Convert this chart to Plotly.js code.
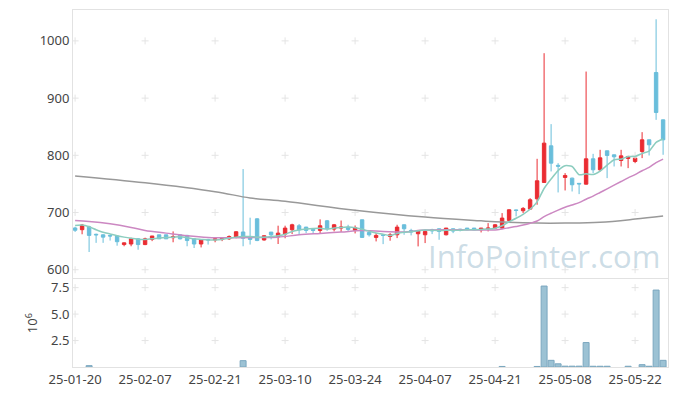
<!DOCTYPE html>
<html>
<head>
<meta charset="utf-8">
<script src="https://cdn.plot.ly/plotly-3.0.1.min.js"></script>
<style>html,body{margin:0;padding:0;background:#fff;}#chart{width:677px;height:396px;}</style>
</head>
<body>
<div id="chart"></div>
<script>
const dates = ["25-01-20","25-01-21","25-01-22","25-01-23","25-01-24","25-01-31","25-02-03","25-02-04","25-02-05","25-02-06",
"25-02-07","25-02-10","25-02-11","25-02-12","25-02-13","25-02-14","25-02-17","25-02-18","25-02-19","25-02-20",
"25-02-21","25-02-24","25-02-25","25-02-26","25-02-27","25-02-28","25-03-04","25-03-05","25-03-06","25-03-07",
"25-03-10","25-03-11","25-03-12","25-03-13","25-03-14","25-03-17","25-03-18","25-03-19","25-03-20","25-03-21",
"25-03-24","25-03-25","25-03-26","25-03-27","25-03-28","25-03-31","25-04-01","25-04-02","25-04-03","25-04-04",
"25-04-07","25-04-08","25-04-09","25-04-10","25-04-11","25-04-14","25-04-15","25-04-16","25-04-17","25-04-18",
"25-04-21","25-04-22","25-04-23","25-04-24","25-04-25","25-04-28","25-04-29","25-04-30","25-05-02","25-05-07",
"25-05-08","25-05-09","25-05-12","25-05-13","25-05-14","25-05-15","25-05-16","25-05-19","25-05-20","25-05-21",
"25-05-22","25-05-23","25-05-26","25-05-27","25-05-28"];

const openP = [673,670,675,662,661,660,659,644,645,654,
644,653,661,661,656,661,660,654,645,653,
652,653,654,656.5,666,656,689,652,665.8,657.6,
662.3,669.9,676.9,674.5,670.5,668.7,685.6,671,672.8,674.5,
668.7,687.3,665.2,656.5,661,658.2,661.1,678.6,668.7,662.9,
661.1,669.9,671.6,661.1,671.6,671,672.8,672.8,669.9,671.5,
672.8,672.8,686.2,704.5,703.1,706,724,752.6,816.6,782.5,
761.3,760.1,751,749.6,793.9,774.7,807.9,800.9,791,794.5,
789.2,806.7,827.1,944.7,862];
const highP = [675,680,677,663,662,660,660,647.5,656,655,
656,659,661,661,667,662,661,655,653,654,
655,657,660,667.5,776,691,690,660,666,677,
677,680.4,680,675,671,688,687,680,686,678.6,
677.4,687.5,666,664,661.5,664,678.6,679,671.6,668.7,
669.9,671.6,672,673,672,671.5,673,673,673,681.5,
680,699,705.5,705,709.5,725.2,793.9,978.5,854.5,786.3,
768.9,761,751.5,946.4,802.6,809.6,808,801,809.6,799,
795.5,840.5,827.5,1037.8,862.5];
const lowP = [666,662,631,647,647,651,642,641,641,635,
643,650,654,654,648,653,641,638,639,644,
648,650,652,655,641,644,650,651,653,645,
655,662.3,661,664,663,664,668,667,666,666,
663.5,656,658,649.5,644.8,650.7,655.3,661.1,660,640.8,
646.6,662.3,652.4,660,664,667,669,669,665.2,667,
671,671,686,693.2,699,705,713.6,752,771.8,735.1,
738.6,736.8,732.2,749,768.9,771.8,760.1,780.5,780.5,777.6,
786.3,795.1,799.7,862,800.9];
const closeP = [669,678,660,661,657,659,649,647,654,644,
654,659,654,654,658,654,651,645,652,652,
654,656,658,666.4,655,653,651,659.4,661,664,
672.8,678.6,669.9,668.7,668.7,676.9,671.6,678.6,674.5,670.5,
673.4,656.5,661.1,660,660,661.1,674.5,671.6,665.8,668.7,
667,668.1,667,672.8,667.6,668.7,669.9,669.9,672.8,672.8,
678.6,690.3,704.8,703.7,707.2,722.3,755.5,821.3,786.3,781,
764.8,748.5,750,793.9,774.7,795.6,799.7,797.4,799.1,798,
795.1,827.1,818.4,874.8,827.1];

// volume in millions of shares (0 = too small to see)
const volume = [0,0,0.13,0,0,0,0,0,0,0,
0,0,0,0,0,0,0,0,0,0,
0,0,0,0,0.6,0,0,0,0,0,
0,0,0,0,0,0,0,0,0,0,
0,0,0,0,0,0,0,0,0,0,
0,0,0,0,0,0,0,0,0,0,
0,0.05,0,0,0,0,0.05,7.65,0.63,0.3,
0.08,0.08,0.08,2.31,0.07,0.07,0.07,0,0,0.07,
0,0.22,0.07,7.27,0.63];

const ma5 = [677.4,678,675,670,665.5,662.5,659.5,657,655,653.5,
653,654,655.5,656.5,657,657.5,656,654,653,652,
652,653,655,657,658,658,657,657,658,659.5,
662,667,669.5,671,672,672.5,671,673,674,674.5,
673.5,670.7,667.2,664.3,662.2,659.7,663.3,665.4,666.6,668.3,
669.5,669,668.5,669,669,669,670,670,670.5,671,
672.5,676.9,683.9,690,696.9,705.7,718.7,742,758.5,773.3,
781.8,780.4,766.1,767.6,766.4,772.5,782.8,792.3,793.3,798,
797.9,803.3,807.5,822.7,828.5];

const ma20Dates = ["25-01-20","25-01-22","25-01-31","25-02-05","25-02-07","25-02-12","25-02-17","25-02-20","25-02-26","25-03-04",
"25-03-07","25-03-12","25-03-17","25-03-20","25-03-25","25-03-28","25-04-02","25-04-07","25-04-14","25-04-21",
"25-04-22","25-04-23","25-04-24","25-04-25","25-04-28","25-04-29","25-04-30","25-05-02","25-05-07","25-05-08",
"25-05-09","25-05-12","25-05-13","25-05-14","25-05-15","25-05-16","25-05-19","25-05-20","25-05-21","25-05-22",
"25-05-23","25-05-26","25-05-27","25-05-28"];
const ma20Values = [686,684.4,680.3,674,668.7,664,659.4,656.5,656,656.5,
657,661,663.5,665.8,668.5,667,666,669.5,670,669.6,
671.3,673.5,675.7,678.1,681.2,685.2,692.7,698.7,704.3,709.2,
713.2,717.3,723.3,728.7,735,741.5,747.9,754.2,760.5,766.3,
773.1,778.8,787.4,793.4];

const ma120Dates = ["25-01-20","25-02-07","25-02-21","25-02-28","25-03-10","25-03-24","25-04-07","25-04-17","25-04-21","25-04-29","25-05-08","25-05-15","25-05-22","25-05-28"];
const ma120Values = [764,752,736.5,725.5,719.5,704,692,685.5,684,681.5,681.5,683,688.5,694];

const tickDates = ["25-01-20","25-02-07","25-02-21","25-03-10","25-03-24","25-04-07","25-04-21","25-05-08","25-05-22"];
const priceTicks = [600,700,800,900,1000];
const volTicks = [2.5,5,7.5];

const upColor = '#ea2c32';
const downColor = '#69bedb';

// only days with a visible volume get a bar
const volX = [], volY = [];
dates.forEach((d,i)=>{ if (volume[i] > 0) { volX.push(d); volY.push(volume[i]); } });

// grid cross markers at tick intersections
const gx1=[],gy1=[],gx2=[],gy2=[];
tickDates.forEach(d=>{
  priceTicks.forEach(v=>{gx1.push(d);gy1.push(v);});
  volTicks.forEach(v=>{gx2.push(d);gy2.push(v);});
});
const crossMarker = {symbol:'cross-thin',size:5,line:{color:'#e4e4e4',width:1}};

const traces = [
  {type:'candlestick',x:dates,open:openP,high:highP,low:lowP,close:closeP,xaxis:'x2',yaxis:'y',
   increasing:{line:{color:upColor,width:1},fillcolor:upColor},
   decreasing:{line:{color:downColor,width:1},fillcolor:downColor},
   whiskerwidth:0,showlegend:false,hoverinfo:'skip'},
  {type:'bar',x:volX,y:volY,xaxis:'x',yaxis:'y2',width:0.85,marker:{color:'#9cc2d4',line:{color:'#7ba7bf',width:1}},showlegend:false,hoverinfo:'skip'},
  {type:'scatter',mode:'markers',x:gx1,y:gy1,xaxis:'x2',yaxis:'y',hoverinfo:'skip',showlegend:false,marker:crossMarker},
  {type:'scatter',mode:'markers',x:gx2,y:gy2,xaxis:'x',yaxis:'y2',hoverinfo:'skip',showlegend:false,marker:crossMarker},
  {type:'scatter',mode:'lines',x:ma120Dates,y:ma120Values,xaxis:'x2',yaxis:'y',line:{color:'#999999',width:1.5,shape:'spline'},showlegend:false,hoverinfo:'skip'},
  {type:'scatter',mode:'lines',x:ma20Dates,y:ma20Values,xaxis:'x2',yaxis:'y',line:{color:'#cc88c2',width:1.5,shape:'spline'},showlegend:false,hoverinfo:'skip'},
  {type:'scatter',mode:'lines',x:dates,y:ma5,xaxis:'x2',yaxis:'y',line:{color:'#8ccdbf',width:1.5,shape:'spline',smoothing:0.6},showlegend:false,hoverinfo:'skip'}
];

const fontFam = '"Noto Sans", "Open Sans", sans-serif';
const layout = {
  width:677,height:396,
  margin:{l:73,r:9,t:10,b:29},
  paper_bgcolor:'#ffffff',plot_bgcolor:'#ffffff',
  font:{family:fontFam,size:13,color:'#444'},
  boxgap:0.3,
  showlegend:false,
  xaxis:{type:'category',categoryorder:'array',categoryarray:dates,domain:[0,1],anchor:'y2',range:[-0.3,84.7],
    tickmode:'array',tickvals:tickDates,ticktext:tickDates,
    showgrid:false,zeroline:false,showline:true,mirror:true,linecolor:'#e2e2e2',linewidth:1,
    ticks:'',tickfont:{size:13,color:'#444'},rangeslider:{visible:false}},
  xaxis2:{type:'category',categoryorder:'array',categoryarray:dates,domain:[0,1],anchor:'y',matches:'x',range:[-0.3,84.7],
    showticklabels:false,showgrid:false,zeroline:false,showline:true,mirror:true,linecolor:'#e2e2e2',linewidth:1,
    ticks:'',rangeslider:{visible:false}},
  yaxis:{domain:[0.25,1],anchor:'x2',range:[586,1054],tickmode:'array',tickvals:priceTicks,
    showgrid:false,zeroline:false,showline:true,mirror:true,linecolor:'#e2e2e2',linewidth:1,ticks:'',
    tickfont:{size:13,color:'#444'}},
  yaxis2:{domain:[0,0.246],anchor:'x',range:[0,8.3],tickmode:'array',tickvals:volTicks,tickformat:'.1f',
    showgrid:false,zeroline:false,showline:true,mirror:true,linecolor:'#e2e2e2',linewidth:1,ticks:'',
    tickfont:{size:13,color:'#444'},
    title:{text:'10<sup>6</sup>',font:{size:13,color:'#444'},standoff:10}},
  annotations:[{text:'InfoPointer.com',xref:'paper',yref:'paper',x:0.99,y:0.31,xanchor:'right',yanchor:'middle',
    showarrow:false,font:{family:'"Open Sans", "Noto Sans", sans-serif',size:31,color:'rgba(176,202,216,0.65)'}}]
};

Plotly.newPlot('chart',traces,layout,{displayModeBar:false,staticPlot:true});
</script>
</body>
</html>
